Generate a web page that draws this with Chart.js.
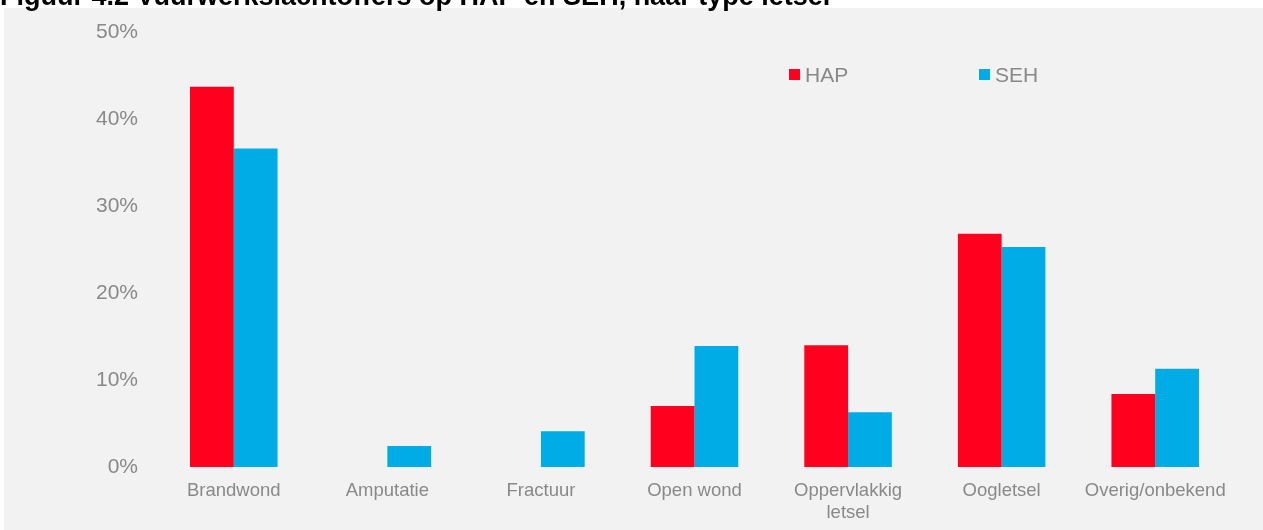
<!DOCTYPE html>
<html>
<head>
<meta charset="utf-8">
<script src="https://cdn.jsdelivr.net/npm/chart.js@4"></script>
<style>
  html, body { margin: 0; padding: 0; background: #ffffff; }
  #wrap { position: relative; width: 1263px; height: 530px; }
</style>
</head>
<body>
<div id="wrap"><canvas id="c" width="1263" height="530"></canvas></div>
<script>
const titleText = 'Figuur 4.2 Vuurwerkslachtoffers op HAP en SEH, naar type letsel';
const categories = ['Brandwond', 'Amputatie', 'Fractuur', 'Open wond', ['Oppervlakkig', 'letsel'], 'Oogletsel', 'Overig/onbekend'];
const seriesNames = ['HAP', 'SEH'];
const hapValues = [43.7, 0, 0, 7.0, 14.0, 26.8, 8.4];
const sehValues = [36.6, 2.4, 4.1, 13.9, 6.3, 25.3, 11.3];
const yTicks = [0, 10, 20, 30, 40, 50];

const textColor = '#898989';
const fontFam = '"Liberation Sans", Arial, sans-serif';

const panelPlugin = {
  id: 'panel',
  beforeDraw(chart) {
    const ctx = chart.ctx;
    ctx.save();
    ctx.fillStyle = '#ffffff';
    ctx.fillRect(0, 0, chart.width, chart.height);
    ctx.fillStyle = '#f2f2f2';
    ctx.fillRect(4, 8, chart.width - 4, chart.height - 8);
    ctx.fillStyle = '#000000';
    ctx.font = 'bold 27px ' + fontFam;
    ctx.textBaseline = 'alphabetic';
    ctx.textAlign = 'left';
    ctx.fillText(titleText, 0, 5);
    ctx.restore();
  }
};

const legendPlugin = {
  id: 'customLegend',
  afterDraw(chart) {
    const ctx = chart.ctx;
    const xs = [789, 979];
    ctx.save();
    ctx.font = '21px ' + fontFam;
    ctx.textBaseline = 'middle';
    ctx.textAlign = 'left';
    chart.data.datasets.forEach((ds, i) => {
      ctx.fillStyle = ds.backgroundColor;
      ctx.fillRect(xs[i], 69, 11, 11);
      ctx.fillStyle = textColor;
      ctx.fillText(ds.label, xs[i] + 16, 76);
    });
    ctx.restore();
  }
};

new Chart(document.getElementById('c'), {
  type: 'bar',
  data: {
    labels: categories,
    datasets: [
      { label: seriesNames[0], data: hapValues, backgroundColor: '#FF001F', borderWidth: 0 },
      { label: seriesNames[1], data: sehValues, backgroundColor: '#00ACE6', borderWidth: 0 }
    ]
  },
  options: {
    responsive: false,
    animation: false,
    devicePixelRatio: 1,
    layout: { padding: { top: 32, right: 31, left: 0, bottom: 0 } },
    plugins: {
      legend: { display: false },
      title: { display: false },
      tooltip: { enabled: false }
    },
    datasets: { bar: { barPercentage: 1.0, categoryPercentage: 0.57 } },
    scales: {
      x: {
        grid: { display: false, drawTicks: false },
        border: { display: false },
        ticks: {
          color: textColor,
          font: { family: fontFam, size: 18.5 },
          padding: 13,
          maxRotation: 0,
          autoSkip: false
        },
        afterFit(s) { s.height = 63; }
      },
      y: {
        min: 0,
        max: 50,
        grid: { display: false, drawTicks: false },
        border: { display: false },
        afterBuildTicks(s) { s.ticks = yTicks.map(v => ({ value: v })); },
        ticks: {
          color: textColor,
          font: { family: fontFam, size: 21 },
          padding: 19,
          callback: v => v + '%'
        },
        afterFit(s) { s.width = 157; }
      }
    }
  },
  plugins: [panelPlugin, legendPlugin]
});
</script>
</body>
</html>
